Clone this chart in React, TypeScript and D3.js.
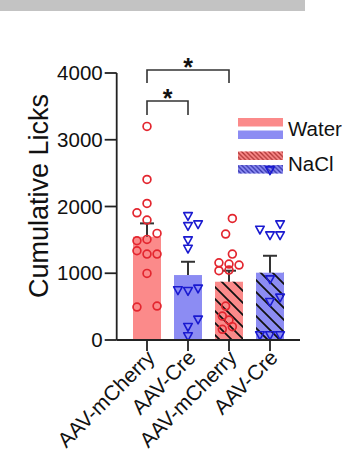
import React from "react";
import * as d3 from "d3";

const categories = ["AAV-mCherry", "AAV-Cre", "AAV-mCherry", "AAV-Cre"];
const solutions = ["Water", "Water", "NaCl", "NaCl"];
const vectors = ["mCherry", "Cre", "mCherry", "Cre"];
const means = [1547, 973, 873, 1008];
const sems = [200, 199, 165, 254];
const yTicks = [0, 1000, 2000, 3000, 4000];

const g1Values = [3200, 2405, 2046, 1906, 1796, 1597, 1507, 1487, 1337, 1287, 1287, 998, 509, 494];
const g1Slots = [0, 0, 0, -1.5, 0, 1.5, 0, -1.5, -1.5, 0, 1.5, 0, 1.5, -1.5];
const g2Values = [1861, 1737, 1711, 1497, 1372, 774, 749, 738, 310, 200, 60];
const g2Slots = [0, 1.5, 0, 0, 0, 1.5, -1.5, 0, 1.5, 0, 0];
const g3Values = [1821, 1587, 1287, 1157, 1138, 1123, 1038, 1048, 509, 359, 299, 200, 160];
const g3Slots = [0.5, -0.5, 0.5, -1.5, 0, 1.5, -1.5, 0, -0.5, -1, 0, 0.5, -1];
const g4Values = [2545, 1737, 1657, 1572, 1572, 913, 639, 574, 75, 75, 75];
const g4Slots = [0, 1.5, -1.5, 0, 1.5, 0, 1.5, 0, -1.5, 0, 1.5];

const groupValues = [g1Values, g2Values, g3Values, g4Values];
const groupSlots = [g1Slots, g2Slots, g3Slots, g4Slots];

const comparisons = [
  { a: 0, b: 2, level: 0 },
  { a: 0, b: 1, level: 1 },
];

const RED_FILL = "#fb8a8a";
const BLUE_FILL = "#8c8cf3";
const RED_PT = "#e3262f";
const BLUE_PT = "#1a1ad0";
const AX = "#222";
const FONT = "'Liberation Sans', Arial, sans-serif";

export default function App() {
  const W = 359, H = 461;
  const keys = categories.map((c, i) => c + "|" + solutions[i]);
  const x = d3.scaleBand<string>().domain(keys).range([126.5, 290.5]).paddingInner(0.317).paddingOuter(0.1585);
  const y = d3.scaleLinear().domain([0, 4000]).range([340, 73]);
  const axisX = 116.7;
  const bw = x.bandwidth();
  const cx = (i: number) => (x(keys[i]) as number) + bw / 2;
  const slotStep = 6.7;

  return (
    <svg width={W} height={H} style={{ position: "absolute", left: 0, top: 0 }} fontFamily={FONT}>
      <defs>
        <pattern id="hatch" patternUnits="userSpaceOnUse" width={12} height={12}>
          <path d="M0,0 L12,12 M-3,9 L3,15 M9,-3 L15,3" stroke="#111" strokeWidth={1.8} />
        </pattern>
        <pattern id="hatchRedLeg" patternUnits="userSpaceOnUse" width={4.5} height={4.5}>
          <path d="M0,0 L4.5,4.5 M-1,3.5 L1,5.5 M3.5,-1 L5.5,1" stroke="#a33" strokeWidth={1.3} />
        </pattern>
        <pattern id="hatchBlueLeg" patternUnits="userSpaceOnUse" width={4.5} height={4.5}>
          <path d="M0,0 L4.5,4.5 M-1,3.5 L1,5.5 M3.5,-1 L5.5,1" stroke="#33a" strokeWidth={1.3} />
        </pattern>
      </defs>
      <rect x={0} y={0} width={305} height={11} fill="#c3c3c3" />

      {/* bars */}
      {keys.map((k, i) => (
        <g key={k}>
          <rect x={x(k)} y={y(means[i])} width={bw} height={y(0) - y(means[i])}
            fill={vectors[i] === "mCherry" ? RED_FILL : BLUE_FILL} />
          {solutions[i] === "NaCl" && (
            <rect x={x(k)} y={y(means[i])} width={bw} height={y(0) - y(means[i])} fill="url(#hatch)" />
          )}
        </g>
      ))}

      {/* legend */}
      <rect x={238} y={118} width={45} height={8.5} fill={RED_FILL} />
      <rect x={238} y={130.5} width={45} height={8.5} fill={BLUE_FILL} />
      <text x={288} y={135.5} fontSize={20.5} fill="#111">Water</text>
      <rect x={238} y={151.5} width={45} height={8.5} fill={RED_FILL} />
      <rect x={238} y={151.5} width={45} height={8.5} fill="url(#hatchRedLeg)" />
      <rect x={238} y={165} width={45} height={8.5} fill={BLUE_FILL} />
      <rect x={238} y={165} width={45} height={8.5} fill="url(#hatchBlueLeg)" />
      <text x={288} y={171} fontSize={20.5} fill="#111">NaCl</text>

      {/* error bars */}
      {keys.map((k, i) => (
        <g key={"e" + k} stroke="#333" strokeWidth={2}>
          <line x1={cx(i)} x2={cx(i)} y1={y(means[i])} y2={y(means[i] + sems[i])} />
          <line x1={cx(i) - 7} x2={cx(i) + 7} y1={y(means[i] + sems[i])} y2={y(means[i] + sems[i])} />
        </g>
      ))}

      {/* points */}
      {groupValues.map((vals, gi) =>
        vals.map((v, j) => {
          const px = cx(gi) + groupSlots[gi][j] * slotStep;
          const py = y(v);
          return vectors[gi] === "mCherry" ? (
            <circle key={gi + "-" + j} cx={px} cy={py} r={3.9} fill="none" stroke={RED_PT} strokeWidth={1.7} />
          ) : (
            <path key={gi + "-" + j} transform={`translate(${px},${py})`} d="M-4.3,-3.2 L4.3,-3.2 L0,4.6 Z"
              fill="none" stroke={BLUE_PT} strokeWidth={1.6} strokeLinejoin="round" />
          );
        })
      )}

      {/* axes */}
      <line x1={axisX} x2={axisX} y1={y(4000)} y2={y(0)} stroke={AX} strokeWidth={1.8} />
      <line x1={axisX} x2={300} y1={y(0)} y2={y(0)} stroke={AX} strokeWidth={1.8} />
      {yTicks.map((t) => (
        <g key={"yt" + t}>
          <line x1={axisX - 12} x2={axisX} y1={y(t)} y2={y(t)} stroke={AX} strokeWidth={1.8} />
          <text x={axisX - 14} y={y(t) + 7} fontSize={20.5} textAnchor="end" fill="#111">{t}</text>
        </g>
      ))}
      {keys.map((k, i) => (
        <g key={"xt" + k}>
          <line x1={cx(i)} x2={cx(i)} y1={y(0)} y2={y(0) + 11} stroke={AX} strokeWidth={1.8} />
          <text transform={`translate(${cx(i) + 9},${y(0) + 19}) rotate(-45)`} fontSize={21} textAnchor="end" fill="#111">
            {categories[i]}
          </text>
        </g>
      ))}
      <text transform={`translate(48,196) rotate(-90)`} fontSize={27} textAnchor="middle" fill="#111">Cumulative Licks</text>

      {/* significance */}
      {comparisons.map((c, i) => {
        const yl = c.level === 0 ? 70 : 101;
        const drop = c.level === 0 ? 13 : 14;
        const x1 = cx(c.a), x2 = cx(c.b);
        return (
          <g key={"s" + i}>
            <path d={`M${x1},${yl + drop} L${x1},${yl} L${x2},${yl} L${x2},${yl + drop}`} fill="none" stroke="#333" strokeWidth={1.6} />
            <text x={(x1 + x2) / 2} y={yl + 6} fontSize={25} fontWeight="bold" textAnchor="middle" fill="#111">*</text>
          </g>
        );
      })}
    </svg>
  );
}
